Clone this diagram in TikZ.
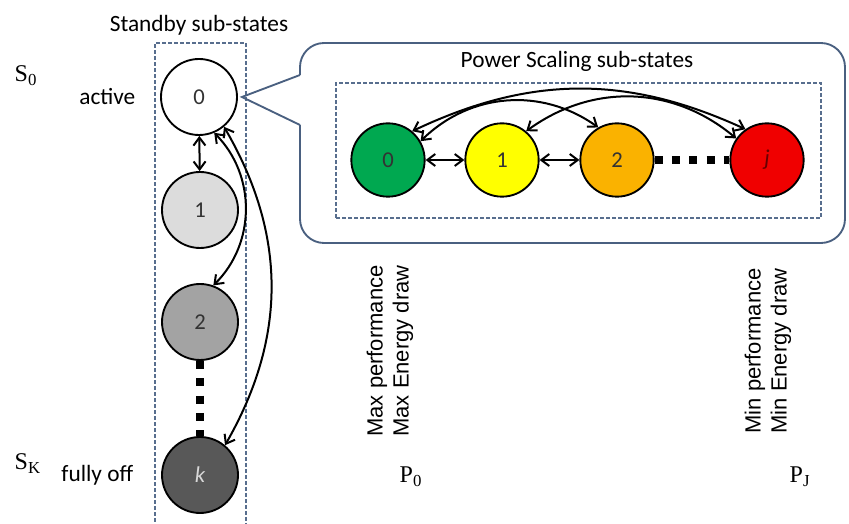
\documentclass[tikz,border=0pt]{standalone}
\usepackage{fontspec}
\setmainfont{Carlito}
\newfontfamily\timesf{Liberation Serif}
\newfontfamily\arialf{Liberation Sans}
\usetikzlibrary{arrows.meta}

\definecolor{boxblue}{RGB}{88,110,142}
\definecolor{callblue}{RGB}{74,96,128}
\definecolor{sgrayA}{RGB}{220,220,220}
\definecolor{sgrayB}{RGB}{163,163,163}
\definecolor{sgrayC}{RGB}{88,88,88}
\definecolor{pgreen}{RGB}{0,168,80}
\definecolor{pyellow}{RGB}{255,255,0}
\definecolor{porange}{RGB}{250,178,0}
\definecolor{pred}{RGB}{240,0,0}

\begin{document}
\begin{tikzpicture}[x=0.75pt, y=0.75pt,
    sbnode/.style = {draw, circle, line width=1.4pt, minimum size=57pt, inner sep=0pt,
                     text=black!80, font=\fontsize{17}{20}\selectfont},
    psnode/.style = {sbnode, minimum size=55pt},
    subbox/.style = {draw=boxblue, line width=1.1pt, dash pattern=on 3pt off 1.5pt},
    callout/.style = {draw=callblue, line width=1.4pt},
    link/.style = {<->, line width=1.5pt},
    squaredots/.style = {line width=6.5pt, dash pattern=on 6pt off 7pt},
    lbl/.style = {font=\fontsize{17.5}{21}\selectfont},
    serif/.style = {font=\timesf\fontsize{18}{21}\selectfont},
    rotlbl/.style = {rotate=90, align=left, font=\arialf\fontsize{16.5}{19.5}\selectfont},
    >={Straight Barb[length=6pt,width=9pt]}]
  \useasboundingbox (0,0) rectangle (849,524);

  % standby side
  \draw[subbox] (155,-10) rectangle (246,481);
  \node[lbl, anchor=base] (sbtitle) at (199,492) {Standby sub-states};
  \node[serif, anchor=base west] (S0) at (10,442) {S\textsubscript{0}};
  \node[serif, anchor=base west] (SK) at (10,54) {S\textsubscript{K}};
  \node[lbl, anchor=base east] (active) at (140,419) {active};
  \node[lbl, anchor=base east] (fullyoff) at (138,42) {fully off};

  \node[sbnode, fill=white] (s0) at (199,427) {0};
  \node[sbnode, fill=sgrayA] (s1) at (200,314) {1};
  \node[sbnode, fill=sgrayB] (s2) at (200,202) {2};
  \node[sbnode, fill=sgrayC, text=white!85!black] (sk) at (200,49) {\itshape k};

  \draw[link] (s0) -- (s1);
  \draw[link] (s0.-67) to[bend left=45] (s2.70);
  \draw[link] (s0.-50) to[bend left=30] (sk.50);
  \draw[squaredots] (s2) -- (sk);

  % callout with power scaling
  \coordinate (tip) at ([xshift=3pt]s0.east);
  \draw[callout, rounded corners=18pt] (300,399) -- (300,281) -- (845,281)
    -- (845,481) -- (300,481) -- (300,449);
  \draw[callout] (300,449) -- (tip) -- (300,399);

  \node[lbl, anchor=base] (pstitle) at (577,456) {Power Scaling sub-states};
  \draw[subbox] (336,306) rectangle (821,441);

  \node[psnode, fill=pgreen] (p0) at (388,364) {0};
  \node[psnode, fill=pyellow] (p1) at (502,364) {1};
  \node[psnode, fill=porange] (p2) at (617,364) {2};
  \node[psnode, fill=pred, text=black!60!red] (pj) at (767,364) {\itshape j};

  \draw[link] (p0) -- (p1);
  \draw[link] (p1) -- (p2);
  \draw[squaredots] (p2) -- (pj);
  \draw[link] (p0.30) to[bend left=40] (p2.120);
  \draw[link] (p0.50) to[bend left=25] (pj.125);
  \draw[link] (p1.50) to[bend left=38] (pj.145);

  % bottom labels
  \node[rotlbl] (maxlbl) at (390,173) {Max performance\\Max Energy draw};
  \node[rotlbl] (minlbl) at (768,173) {Min performance\\Min Energy draw};
  \node[serif, anchor=base west] (P0) at (395,41) {P\textsubscript{0}};
  \node[serif, anchor=base west] (PJ) at (785,41) {P\textsubscript{J}};
\end{tikzpicture}
\end{document}
